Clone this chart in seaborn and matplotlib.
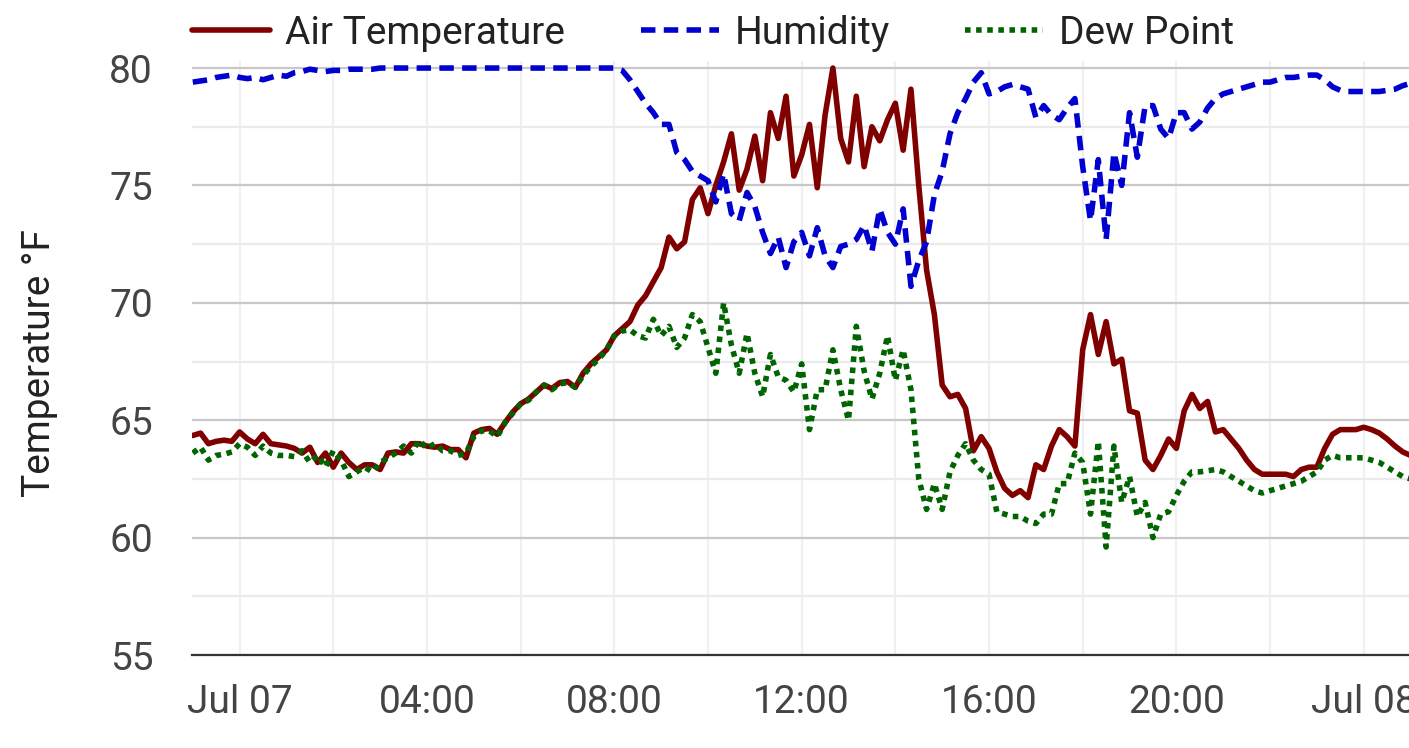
# Weather station – air temperature, humidity and dew point, Jul 07
import pandas as pd
import numpy as np
import matplotlib
matplotlib.use("Agg")
import matplotlib.pyplot as plt
import matplotlib.dates as mdates
from matplotlib.ticker import MultipleLocator, FuncFormatter
import seaborn as sns

# readings every 10 min, from Jul 06 23:00 to Jul 08 01:00 (one row = one hour)
air_temp = [
    64.35, 64.45, 64.0, 64.1, 64.15, 64.1,     # 23h
    64.5, 64.2, 64.0, 64.4, 64.0, 63.95,       # 00h
    63.9, 63.8, 63.6, 63.85, 63.2, 63.6,       # 01h
    63.0, 63.6, 63.2, 62.9, 63.1, 63.1,        # 02h
    62.9, 63.6, 63.65, 63.6, 64.0, 64.0,       # 03h
    63.9, 63.85, 63.9, 63.75, 63.75, 63.4,     # 04h
    64.45, 64.6, 64.65, 64.4, 64.9, 65.35,     # 05h
    65.7, 65.9, 66.2, 66.5, 66.35, 66.6,       # 06h
    66.65, 66.4, 67.0, 67.4, 67.7, 68.0,       # 07h
    68.6, 68.9, 69.2, 69.9, 70.3, 70.9,        # 08h
    71.5, 72.8, 72.3, 72.6, 74.4, 74.9,        # 09h
    73.8, 75.0, 76.0, 77.2, 74.8, 75.7,        # 10h
    77.1, 75.2, 78.1, 77.0, 78.8, 75.4,        # 11h
    76.3, 77.6, 74.9, 78.0, 80.0, 77.0,        # 12h
    76.0, 78.8, 75.8, 77.5, 76.9, 77.8,        # 13h
    78.5, 76.5, 79.1, 75.0, 71.4, 69.5,        # 14h
    66.5, 66.0, 66.1, 65.5, 63.7, 64.3,        # 15h
    63.8, 62.8, 62.1, 61.8, 62.0, 61.7,        # 16h
    63.1, 62.9, 63.9, 64.6, 64.3, 63.9,        # 17h
    68.0, 69.5, 67.8, 69.2, 67.4, 67.6,        # 18h
    65.4, 65.3, 63.3, 62.9, 63.5, 64.2,        # 19h
    63.8, 65.4, 66.1, 65.5, 65.8, 64.5,        # 20h
    64.6, 64.2, 63.8, 63.3, 62.9, 62.7,        # 21h
    62.7, 62.7, 62.7, 62.6, 62.9, 63.0,        # 22h
    63.0, 63.8, 64.4, 64.6, 64.6, 64.6,        # 23h
    64.7, 64.6, 64.45, 64.2, 63.9, 63.65,      # 00h
    63.5,
]

humidity = [
    79.4, 79.45, 79.5, 79.6, 79.65, 79.7,
    79.6, 79.55, 79.6, 79.5, 79.6, 79.7,
    79.65, 79.8, 79.85, 79.95, 79.9, 79.85,
    79.9, 79.9, 79.95, 79.95, 79.95, 79.95,
    80.0, 80.0, 80.0, 80.0, 80.0, 80.0,
    80.0, 80.0, 80.0, 80.0, 80.0, 80.0,
    80.0, 80.0, 80.0, 80.0, 80.0, 80.0,
    80.0, 80.0, 80.0, 80.0, 80.0, 80.0,
    80.0, 80.0, 80.0, 80.0, 80.0, 80.0,
    80.0, 79.9, 79.5, 79.0, 78.5, 78.1,
    77.6, 77.6, 76.4, 76.1, 75.6, 75.4,
    75.2, 74.3, 75.5, 73.8, 73.5, 74.7,
    74.1, 73.0, 72.1, 72.8, 71.5, 72.6,
    73.0, 72.0, 73.2, 72.0, 71.5, 72.4,
    72.5, 72.7, 73.3, 72.2, 74.0, 73.0,
    72.5, 74.0, 70.7, 71.8, 72.6, 74.6,
    75.6, 77.2, 78.1, 78.7, 79.4, 79.8,
    78.9, 79.0, 79.2, 79.3, 79.2, 79.1,
    77.9, 78.4, 78.0, 77.8, 78.3, 78.7,
    75.8, 73.5, 76.1, 72.7, 76.4, 75.0,
    78.1, 76.2, 78.4, 78.4, 77.4, 77.0,
    78.1, 78.1, 77.4, 77.7, 78.3, 78.7,
    78.9, 79.0, 79.1, 79.2, 79.3, 79.4,
    79.4, 79.5, 79.6, 79.6, 79.65, 79.7,
    79.7, 79.5, 79.2, 79.05, 79.0, 79.0,
    79.0, 79.0, 79.0, 79.05, 79.1, 79.25,
    79.35,
]

dew_point = [
    63.6, 63.85, 63.3, 63.5, 63.55, 63.65,
    64.0, 63.85, 63.5, 63.9, 63.6, 63.5,
    63.5, 63.45, 63.7, 63.2, 63.5, 63.0,
    63.7, 63.3, 62.6, 62.8, 63.0, 62.8,
    63.2, 63.4, 63.6, 63.9, 63.6, 64.15,
    63.8, 64.0, 63.7, 63.7, 63.5, 63.6,
    64.3, 64.55, 64.55, 64.3, 64.9, 65.3,
    65.7, 65.85, 66.2, 66.5, 66.3, 66.55,
    66.6, 66.4, 66.9, 67.3, 67.6, 68.0,
    68.6, 68.8, 68.85, 68.6, 68.5, 69.3,
    68.6, 69.0, 68.1, 68.5, 69.5, 69.2,
    68.1, 67.0, 70.0, 68.2, 67.0, 68.7,
    67.0, 66.0, 67.8, 66.85, 66.7, 66.2,
    67.4, 64.6, 66.3, 66.3, 68.0, 66.3,
    65.0, 69.0, 67.1, 65.9, 67.0, 68.6,
    66.7, 68.0, 66.3, 62.5, 61.2, 62.3,
    61.2, 62.8, 63.5, 64.0, 63.3, 62.9,
    62.7, 61.1, 61.0, 60.9, 60.9, 60.7,
    60.6, 61.0, 61.0, 62.3, 62.3, 63.6,
    63.2, 61.0, 64.1, 59.6, 63.9, 61.5,
    62.6, 60.9, 61.5, 60.0, 61.0, 61.1,
    61.8, 62.4, 62.8, 62.8, 62.85, 62.9,
    62.8, 62.6, 62.4, 62.2, 62.0, 61.9,
    62.0, 62.1, 62.2, 62.3, 62.4, 62.6,
    62.8, 63.3, 63.5, 63.4, 63.4, 63.4,
    63.4, 63.3, 63.2, 63.0, 62.8, 62.6,
    62.5,
]

SERIES = ["Air Temperature", "Humidity", "Dew Point"]
COULEURS = {"Air Temperature": "#800000", "Humidity": "#0000d0", "Dew Point": "#006400"}
TIRETS = {"Air Temperature": "", "Humidity": (2.6, 1.5), "Dew Point": (1, 1)}

temps = pd.date_range("2024-07-06 23:00", periods=len(air_temp), freq="10min")
df = pd.DataFrame({"time": temps, SERIES[0]: air_temp,
                   SERIES[1]: humidity, SERIES[2]: dew_point})
long = df.melt(id_vars="time", var_name="series", value_name="value")

sns.set_theme(style="white")
plt.rcParams["font.family"] = ["Roboto", "DejaVu Sans"]

W, H = 1409, 748
fig = plt.figure(figsize=(W / 100, H / 100), dpi=100)
ax = fig.add_axes([192 / W, 1 - 655 / H, 1 - 192 / W, (655 - 61) / H])

sns.lineplot(data=long, x="time", y="value", hue="series", style="series",
             hue_order=SERIES, style_order=SERIES, palette=COULEURS,
             dashes=TIRETS, linewidth=4.0, legend=False, ax=ax)

ax.set_ylim(55, 80.3)
ax.set_xlim(pd.Timestamp("2024-07-06 22:59"), pd.Timestamp("2024-07-08 00:58"))
ax.yaxis.set_major_locator(MultipleLocator(5))
ax.yaxis.set_minor_locator(MultipleLocator(2.5))
ax.xaxis.set_major_locator(mdates.HourLocator(byhour=range(0, 24, 4)))
ax.xaxis.set_minor_locator(mdates.HourLocator(byhour=range(0, 24, 2)))


def fmt_date(x, pos):
    d = mdates.num2date(x)
    return d.strftime("%b %d") if d.hour == 0 else d.strftime("%H:%M")


ax.xaxis.set_major_formatter(FuncFormatter(fmt_date))

ax.grid(which="major", axis="y", color="#c8c8c8", lw=1.6)
ax.grid(which="minor", axis="y", color="#ebebeb", lw=1.6)
ax.grid(which="both", axis="x", color="#f0f0f0", lw=1.6)
ax.set_axisbelow(True)

for s in ["top", "right", "left"]:
    ax.spines[s].set_visible(False)
ax.spines["bottom"].set_color("#333333")
ax.spines["bottom"].set_linewidth(1.6)

ax.tick_params(axis="both", which="both", length=0, labelsize=28, labelcolor="#444444")
ax.tick_params(axis="y", pad=28)
ax.tick_params(axis="x", pad=21)
ax.set_xlabel("")
ax.set_ylabel("Temperature °F", fontsize=28, color="#222222", va="center")
ax.yaxis.set_label_coords(40 / W, 1 - 363 / H, transform=fig.transFigure)

fig.legend(ax.lines[:3], SERIES, loc="center left",
           bbox_to_anchor=(192 / W, 1 - 33 / H), ncol=3, frameon=False,
           fontsize=28, labelcolor="#222222", handlelength=2.0,
           handletextpad=0.4, columnspacing=1.95, borderpad=0, borderaxespad=0)

fig.savefig("out.png", dpi=100)
plt.close()
